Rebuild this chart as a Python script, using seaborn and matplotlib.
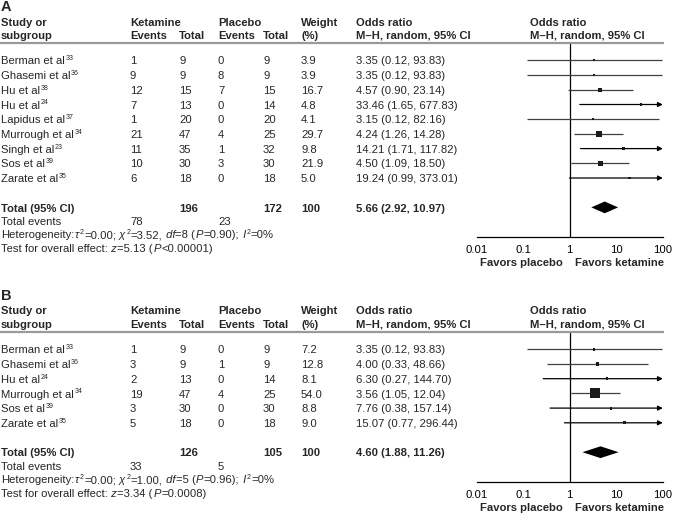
# forest_ketamine.py
# 氯胺酮 vs 安慰剂 森林图 (A/B 两个面板)
import numpy as np
import matplotlib
matplotlib.use("Agg")
import matplotlib.pyplot as plt
import seaborn as sns

sns.set_style("white")
plt.rcParams["font.family"] = ["Liberation Sans", "DejaVu Sans"]

# ===================== 数据：面板 A =====================
a_studies = ["Berman", "Ghasemi", "Hu", "Hu", "Lapidus", "Murrough", "Singh", "Sos", "Zarate"]
a_refs = [33, 36, 38, 24, 37, 34, 23, 39, 35]
a_ket_events = [1, 9, 12, 7, 1, 21, 11, 10, 6]
a_ket_total = [9, 9, 15, 13, 20, 47, 35, 30, 18]
a_plc_events = [0, 8, 7, 0, 0, 4, 1, 3, 0]
a_plc_total = [9, 9, 15, 14, 20, 25, 32, 30, 18]
a_weight = [3.9, 3.9, 16.7, 4.8, 4.1, 29.7, 9.8, 21.9, 5.0]
a_or = [3.35, 3.35, 4.57, 33.46, 3.15, 4.24, 14.21, 4.50, 19.24]
a_lo = [0.12, 0.12, 0.90, 1.65, 0.12, 1.26, 1.71, 1.09, 0.99]
a_hi = [93.83, 93.83, 23.14, 677.83, 82.16, 14.28, 117.82, 18.50, 373.01]
a_totals = [196, 172, 100]
a_events = [78, 23]
a_pooled = [5.66, 2.92, 10.97]
a_het = ["0.00", "3.52", "8", "0.90", "0"]   # tau2, chi2, df, P, I2
a_test = ["5.13", "<0.00001"]                # z, P

# ===================== 数据：面板 B =====================
b_studies = ["Berman", "Ghasemi", "Hu", "Murrough", "Sos", "Zarate"]
b_refs = [33, 36, 24, 34, 39, 35]
b_ket_events = [1, 3, 2, 19, 3, 5]
b_ket_total = [9, 9, 13, 47, 30, 18]
b_plc_events = [0, 1, 0, 4, 0, 0]
b_plc_total = [9, 9, 14, 25, 30, 18]
b_weight = [7.2, 12.8, 8.1, 54.0, 8.8, 9.0]
b_or = [3.35, 4.00, 6.30, 3.56, 7.76, 15.07]
b_lo = [0.12, 0.33, 0.27, 1.05, 0.38, 0.77]
b_hi = [93.83, 48.66, 144.70, 12.04, 157.14, 296.44]
b_totals = [126, 105, 100]
b_events = [33, 5]
b_pooled = [4.60, 1.88, 11.26]
b_het = ["0.00", "1.00", "5", "0.96", "0"]
b_test = ["3.34", "=0.0008"]

tick_vals = [0.01, 0.1, 1, 10, 100]
tick_labels = ["0.01", "0.1", "1", "10", "100"]

W, H = 673, 514
FS = 8.1
DY = 14.7   # 每行像素高度
BL = 4.1    # 行中心 → 基线 的像素偏移
COLS = {"study": 1, "ke": 130, "kt": 179, "pe": 218, "pt": 263, "w": 301, "or": 356, "fp": 529.5}
X_LO, X_HI = 476.5, 662.8  # 森林图横轴 0.01 → 100 的像素位置

fig = plt.figure(figsize=(W / 100, H / 100), dpi=100)
bg = fig.add_axes([0, 0, 1, 1])
bg.set_xlim(0, W)
bg.set_ylim(H, 0)
bg.axis("off")


def rich(x, y, parts):
    # parts: (文字, 类型)  n=正常  i=斜体  s=上标
    first = bg.text(x, y + BL, parts[0][0], fontsize=FS, va="baseline")
    prev = first
    for txt, kind in parts[1:]:
        if kind == "s":
            prev = bg.annotate(txt, xy=(1, 0), xycoords=(prev, first),
                               xytext=(0.4, 3.0), textcoords="offset points",
                               fontsize=FS * 0.62, va="bottom", ha="left")
        else:
            prev = bg.annotate(txt, xy=(1, 0), xycoords=(prev, first),
                               xytext=(0.3, 0), textcoords="offset points",
                               fontsize=FS, va="bottom", ha="left",
                               fontstyle="italic" if kind == "i" else "normal")
    return first


def draw_panel(label, y0, studies, refs, ke, kt, pe, pt, weight, ors, lo, hi,
               totals, events, pooled, het, test):
    n = len(studies)
    r_total = n + 1
    r_axis = r_total + 2

    def py(r):
        return y0 + DY * r

    # 表头
    bg.text(COLS["study"], y0 - 49.4, label, fontsize=10.5, fontweight="bold", va="baseline")
    h1, h2 = y0 - 39 + BL, y0 - 25.5 + BL
    bold = dict(fontsize=FS, fontweight="bold", va="baseline")
    norm = dict(fontsize=FS, va="baseline")
    bg.text(COLS["study"], h1, "Study or", **bold)
    bg.text(COLS["study"], h2, "subgroup", **bold)
    bg.text(COLS["ke"], h1, "Ketamine", **bold)
    bg.text(COLS["ke"], h2, "Events", **bold)
    bg.text(COLS["kt"], h2, "Total", **bold)
    bg.text(COLS["pe"], h1, "Placebo", **bold)
    bg.text(COLS["pe"], h2, "Events", **bold)
    bg.text(COLS["pt"], h2, "Total", **bold)
    bg.text(COLS["w"], h1, "Weight", **bold)
    bg.text(COLS["w"], h2, "(%)", **bold)
    for key in ("or", "fp"):
        bg.text(COLS[key], h1, "Odds ratio", **bold)
        bg.text(COLS[key], h2, "M\u2013H, random, 95% CI", **bold)
    line_y = y0 - 17.5
    bg.plot([0, 664], [line_y, line_y], color="#9a9a9a", lw=1.6, solid_capstyle="butt")

    # 研究行
    for i in range(n):
        y = py(i)
        rich(COLS["study"], y, [(f"{studies[i]} et al", "n"), (str(refs[i]), "s")])
        yb = y + BL
        bg.text(COLS["ke"], yb, str(ke[i]), **norm)
        bg.text(COLS["kt"], yb, str(kt[i]), **norm)
        bg.text(COLS["pe"], yb, str(pe[i]), **norm)
        bg.text(COLS["pt"], yb, str(pt[i]), **norm)
        bg.text(COLS["w"], yb, f"{weight[i]:.1f}", **norm)
        bg.text(COLS["or"], yb, f"{ors[i]:.2f} ({lo[i]:.2f}, {hi[i]:.2f})", **norm)

    # 合计 + 异质性
    y = py(r_total)
    yb = y + BL
    bg.text(COLS["study"], yb, "Total (95% CI)", **bold)
    bg.text(COLS["kt"], yb, str(totals[0]), **bold)
    bg.text(COLS["pt"], yb, str(totals[1]), **bold)
    bg.text(COLS["w"], yb, str(totals[2]), **bold)
    bg.text(COLS["or"], yb, f"{pooled[0]:.2f} ({pooled[1]:.2f}, {pooled[2]:.2f})", **bold)
    bg.text(COLS["study"], yb + 13.3, "Total events", **norm)
    bg.text(COLS["ke"], yb + 13.3, str(events[0]), **norm)
    bg.text(COLS["pe"], yb + 13.3, str(events[1]), **norm)
    rich(COLS["study"], y + 26.8, [
        ("Heterogeneity:", "n"), ("\u03c4", "i"), ("2", "s"), (f"={het[0]};", "n"),
        (" \u03c7", "i"), ("2", "s"), (f"={het[1]},", "n"), (" df", "i"),
        (f"={het[2]} (", "n"), ("P", "i"), (f"={het[3]});", "n"), (" I", "i"),
        ("2", "s"), (f"={het[4]}%", "n")])
    rich(COLS["study"], y + 40.3, [
        ("Test for overall effect:", "n"), (" z", "i"), (f"={test[0]} (", "n"),
        ("P", "i"), (f"{test[1]})", "n")])

    # 森林图坐标轴
    top_px, bot_px = line_y + 1, py(r_axis)
    ax = fig.add_axes([X_LO / W, 1 - bot_px / H, (X_HI - X_LO) / W, (bot_px - top_px) / H])
    ax.patch.set_alpha(0)
    ax.set_xscale("log")
    ax.set_xlim(tick_vals[0], tick_vals[-1])
    ax.set_ylim(r_axis, (top_px - y0) / DY)
    ax.axvline(1, color="black", lw=0.9)

    rows = np.arange(n)
    hi_arr = np.array(hi)
    lo_arr = np.array(lo)
    line_c = "#404040"
    inside = hi_arr <= tick_vals[-1]
    ax.hlines(rows[inside], lo_arr[inside], hi_arr[inside], color=line_c, lw=0.9)
    for r in rows[~inside]:
        ax.annotate("", xy=(tick_vals[-1], r), xytext=(lo_arr[r], r),
                    arrowprops=dict(arrowstyle="-|>", color="black", lw=0.9,
                                    mutation_scale=7, shrinkA=0, shrinkB=0),
                    annotation_clip=False)

    # 方块大小随权重
    side_pt = (1.4 + 0.16 * np.array(weight)) * 0.72
    areas = side_pt ** 2
    sns.scatterplot(x=ors, y=rows, size=areas, sizes=(areas.min(), areas.max()),
                    marker="s", color="#1a1a1a", edgecolor="none", legend=False,
                    ax=ax, zorder=3, clip_on=False)

    # 合并效应菱形
    est, plo, phi = pooled
    hh = 0.4
    ax.fill([plo, est, phi, est], [r_total, r_total - hh, r_total, r_total + hh],
            color="black", lw=0)

    for side in ("left", "right", "top"):
        ax.spines[side].set_visible(False)
    ax.spines["bottom"].set_color("black")
    ax.spines["bottom"].set_linewidth(0.9)
    ax.set_yticks([])
    ax.set_xticks(tick_vals)
    ax.set_xticklabels(tick_labels)
    ax.minorticks_off()
    ax.tick_params(axis="x", direction="inout", length=7, width=0.9, pad=2.5,
                   labelsize=FS, colors="black")
    ax.set_xlabel("")
    ax.set_ylabel("")

    fy = bot_px + 25 + BL
    one_px = X_LO + (X_HI - X_LO) * 0.5
    bg.text(one_px - 7, fy, "Favors placebo", fontsize=FS, fontweight="bold",
            ha="right", va="baseline")
    bg.text(one_px + 5, fy, "Favors ketamine", fontsize=FS, fontweight="bold",
            ha="left", va="baseline")


draw_panel("A", 60.4, a_studies, a_refs, a_ket_events, a_ket_total, a_plc_events,
           a_plc_total, a_weight, a_or, a_lo, a_hi, a_totals, a_events, a_pooled,
           a_het, a_test)
draw_panel("B", 349.3, b_studies, b_refs, b_ket_events, b_ket_total, b_plc_events,
           b_plc_total, b_weight, b_or, b_lo, b_hi, b_totals, b_events, b_pooled,
           b_het, b_test)

fig.savefig("out.png", dpi=100)
